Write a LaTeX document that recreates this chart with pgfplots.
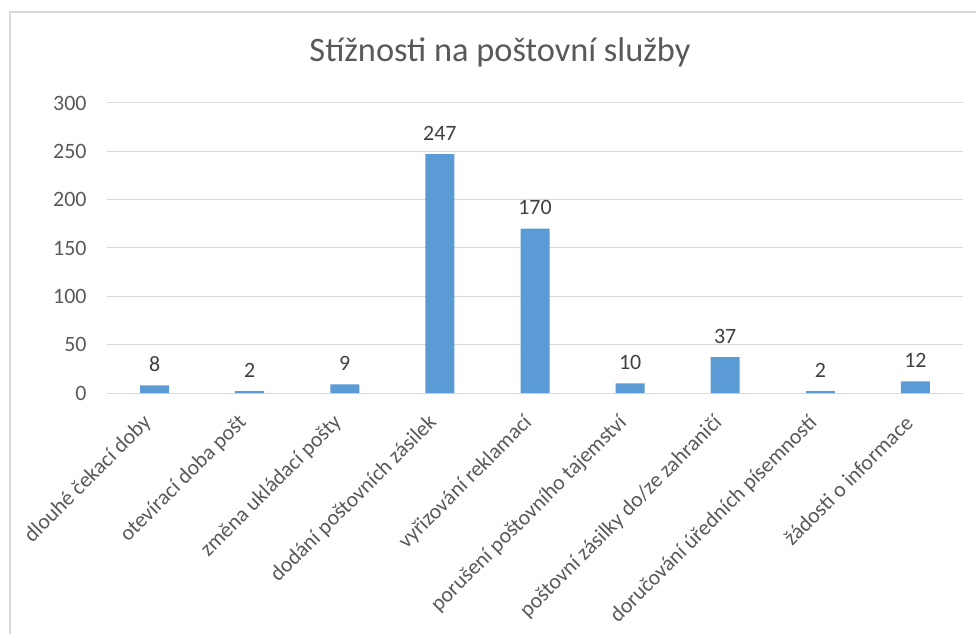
\documentclass[border=0pt]{standalone}
\usepackage{pgfplots}
\pgfplotsset{compat=1.18}
\usepackage{fontspec}
\setmainfont{Carlito}
\definecolor{barblue}{HTML}{5B9BD5}
\definecolor{txtgray}{HTML}{595959}
\definecolor{lblgray}{HTML}{404040}
\definecolor{gridgray}{HTML}{D9D9D9}
\begin{document}
\begin{tikzpicture}
\path[use as bounding box] (0bp,0bp) rectangle (976bp,634bp);
\draw[color=gridgray, line width=1.5bp] (10bp,0bp) -- (10bp,622bp) -- (976bp,622bp);
\node[anchor=base, font=\fontsize{34.5}{40}\selectfont, text=txtgray, inner sep=0pt] at (500bp,572bp) {Stížnosti na poštovní služby};
\begin{axis}[
  at={(107bp,241bp)}, anchor=south west, scale only axis,
  width=856bp, height=290bp,
  xmin=-0.5, xmax=8.5, ymin=0, ymax=300,
  enlargelimits=false,
  ytick={0,50,...,300},
  xtick={0,...,8},
  xticklabels={dlouhé čekací doby, otevírací doba pošt, změna ukládací pošty, dodání poštovních zásilek, vyřizování reklamací, porušení poštovního tajemství, poštovní zásilky do/ze zahraničí, doručování úředních písemností, žádosti o informace},
  axis line style={draw=none},
  major tick length=0pt,
  ymajorgrids, grid style={gridgray, line width=1bp},
  /pgf/number format/assume math mode=true,
  yticklabel style={font=\fontsize{22}{26}\selectfont, text=txtgray, anchor=east, xshift=-17bp},
  xticklabel style={font=\fontsize{21.8}{26}\selectfont, text=txtgray, xshift=-4bp, yshift=-24bp, rotate=45, anchor=east},
  ybar, bar width=29bp,
  nodes near coords,
  nodes near coords style={font=\fontsize{22}{26}\selectfont, text=lblgray, yshift=10bp},
  clip=false,
]
\addplot[fill=barblue, draw=none] coordinates {(0,8) (1,2) (2,9) (3,247) (4,170) (5,10) (6,37) (7,2) (8,12)};
\end{axis}
\end{tikzpicture}
\end{document}
